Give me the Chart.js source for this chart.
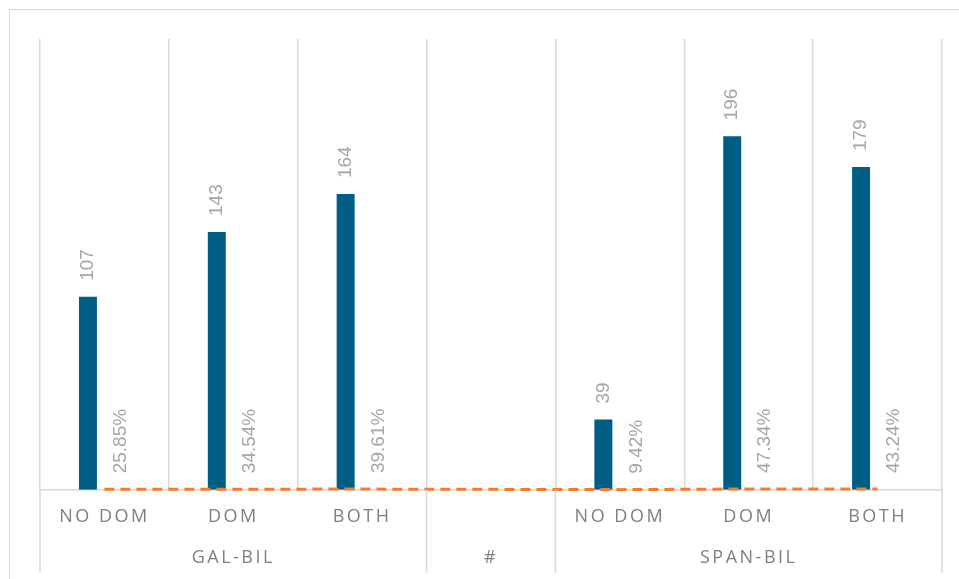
<!DOCTYPE html>
<html lang="en">
<head>
    <meta charset="UTF-8">
    <title>GAL-BIL / SPAN-BIL</title>
    <script src="https://cdn.jsdelivr.net/npm/chart.js"></script>
    <style>
        body { margin: 0; background: #fff; }
        #wrap { position: relative; width: 959px; height: 579px; overflow: hidden; }
        #frame { position: absolute; left: 9px; top: 9px; width: 1000px; height: 1000px; border: 1.5px solid #d9d9d9; }
        canvas { position: absolute; left: 0; top: 0; }
    </style>
</head>
<body>
    <div id="wrap">
        <div id="frame"></div>
        <canvas id="chart" width="959" height="579"></canvas>
    </div>
    <script>
        // categories (first level) and groups (second level)
        const categories = ['NO DOM', 'DOM', 'BOTH', '', 'NO DOM', 'DOM', 'BOTH'];
        const groupLabels = ['GAL-BIL', '#', 'SPAN-BIL'];
        const groupSizes = [3, 1, 3];

        // series
        const counts = [107, 143, 164, null, 39, 196, 179];
        const shares = [0.2585, 0.3454, 0.3961, null, 0.0942, 0.4734, 0.4324];

        // group label sits under the middle category of each group
        const groupAxisLabels = [];
        groupSizes.forEach((n, g) => {
            for (let i = 0; i < n; i++) {
                groupAxisLabels.push(i === Math.floor(n / 2) ? groupLabels[g] : '');
            }
        });

        const labelFont = '19px "Liberation Sans", Arial, sans-serif';
        const axisFont = { family: '"Open Sans", sans-serif', size: 18 };

        const valueLabels = {
            id: 'valueLabels',
            beforeDraw(chart) {
                chart.ctx.letterSpacing = '2.5px';
            },
            beforeDatasetsDraw(chart) {
                chart.ctx.letterSpacing = '0px';
            },
            afterDatasetsDraw(chart) {
                const ctx = chart.ctx;
                ctx.save();
                ctx.font = labelFont;
                ctx.fillStyle = '#a6a6a6';
                ctx.textAlign = 'left';
                ctx.textBaseline = 'middle';
                [0, 1].forEach(di => {
                    const meta = chart.getDatasetMeta(di);
                    const data = chart.data.datasets[di].data;
                    meta.data.forEach((el, i) => {
                        if (data[i] == null) return;
                        const txt = di === 0 ? String(data[i]) : (data[i] * 100).toFixed(2) + '%';
                        ctx.save();
                        ctx.translate(el.x, el.y - 16);
                        ctx.rotate(-Math.PI / 2);
                        ctx.fillText(txt, 0, 0);
                        ctx.restore();
                    });
                });
                ctx.restore();
            },
            afterDraw(chart) {
                // group separators below the axis line
                const x = chart.scales.x;
                const half = (x.getPixelForValue(1) - x.getPixelForValue(0)) / 2;
                const ctx = chart.ctx;
                ctx.save();
                ctx.strokeStyle = '#d9d9d9';
                ctx.lineWidth = 1.5;
                let b = 0;
                const bounds = [0];
                groupSizes.forEach(n => { b += n; bounds.push(b); });
                bounds.forEach(idx => {
                    const px = x.getPixelForValue(idx) - half;
                    ctx.beginPath();
                    ctx.moveTo(px, chart.chartArea.bottom);
                    ctx.lineTo(px, 573);
                    ctx.stroke();
                });
                ctx.restore();
            }
        };

        new Chart(document.getElementById('chart'), {
            data: {
                labels: categories,
                datasets: [
                    {
                        type: 'bar',
                        label: 'count',
                        data: counts,
                        backgroundColor: '#005e84',
                        categoryPercentage: 0.512,
                        barPercentage: 0.545,
                        order: 1
                    },
                    {
                        type: 'bar',
                        label: 'share',
                        data: shares,
                        backgroundColor: '#e3dcd6',
                        categoryPercentage: 0.512,
                        barPercentage: 0.545,
                        order: 1
                    },
                    {
                        type: 'line',
                        label: 'share line',
                        data: shares,
                        borderColor: '#f97b2a',
                        borderWidth: 3,
                        borderDash: [10, 6],
                        pointRadius: 0,
                        spanGaps: true,
                        fill: false,
                        clip: false,
                        order: 0
                    }
                ]
            },
            options: {
                responsive: false,
                animation: false,
                layout: { padding: { top: 39, left: 40, right: 17, bottom: 6 } },
                plugins: {
                    legend: { display: false },
                    tooltip: { enabled: false }
                },
                scales: {
                    y: { display: false, min: 0, max: 250 },
                    x: {
                        type: 'category',
                        position: 'bottom',
                        offset: true,
                        grid: { color: '#d9d9d9', lineWidth: 1.5, offset: true, drawTicks: false },
                        border: { color: '#d9d9d9', width: 1.5 },
                        ticks: { color: '#7f7f7f', font: axisFont, padding: 16, autoSkip: false, maxRotation: 0 }
                    },
                    x2: {
                        type: 'category',
                        position: 'bottom',
                        labels: groupAxisLabels,
                        offset: true,
                        grid: { display: false, drawTicks: false },
                        border: { display: false },
                        ticks: { color: '#7f7f7f', font: axisFont, padding: 4, autoSkip: false, maxRotation: 0 }
                    }
                }
            },
            plugins: [valueLabels]
        });
    </script>
</body>
</html>
